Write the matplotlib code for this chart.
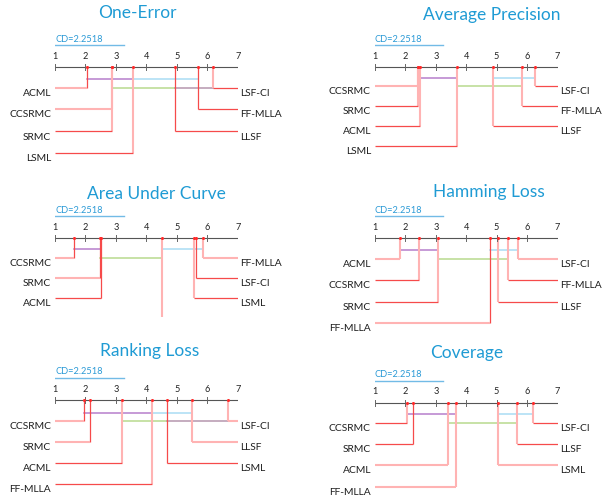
import matplotlib.pyplot as plt

plt.rcParams['font.family'] = ['Lato', 'DejaVu Sans']

W, H = 603, 500
CD = 2.2518

# average ranks, sorted from best to worst
oe_names = ['ACML', 'CCSRMC', 'SRMC', 'LSML', 'LLSF', 'FF-MLLA', 'LSF-CI']
oe_ranks = [2.04, 2.86, 2.88, 3.55, 4.94, 5.69, 6.18]
oe_cliques = [(0, 3), (1, 4), (3, 5), (4, 6)]

ap_names = ['CCSRMC', 'SRMC', 'ACML', 'LSML', 'LLSF', 'FF-MLLA', 'LSF-CI']
ap_ranks = [2.42, 2.43, 2.49, 3.69, 4.89, 5.83, 6.27]
ap_cliques = [(0, 3), (3, 5), (4, 6)]

# LLSF has no label on this one
auc_names = ['CCSRMC', 'SRMC', 'ACML', '', 'LSML', 'LSF-CI', 'FF-MLLA']
auc_ranks = [1.62, 2.49, 2.51, 4.53, 5.57, 5.62, 5.86]
auc_cliques = [(0, 2), (1, 3), (3, 6)]

hl_names = ['ACML', 'CCSRMC', 'SRMC', 'FF-MLLA', 'LLSF', 'FF-MLLA', 'LSF-CI']
hl_ranks = [1.82, 2.46, 3.08, 4.78, 5.03, 5.36, 5.69]
hl_cliques = [(0, 2), (2, 5), (3, 6)]

rl_names = ['CCSRMC', 'SRMC', 'ACML', 'FF-MLLA', 'LSML', 'LLSF', 'LSF-CI']
rl_ranks = [1.96, 2.15, 3.19, 4.17, 4.69, 5.49, 6.69]
rl_cliques = [(0, 3), (2, 4), (3, 5), (4, 6)]

cov_names = ['CCSRMC', 'SRMC', 'ACML', 'FF-MLLA', 'LSML', 'LLSF', 'LSF-CI']
cov_ranks = [2.04, 2.24, 3.39, 3.65, 5.03, 5.67, 6.18]
cov_cliques = [(0, 3), (2, 5), (4, 6)]

# line shades per method: vertical / horizontal ('r' strong, 'p' pale)
oe_shade = ['rp', 'pp', 'pr', 'pr', 'rr', 'rr', 'pr']
ap_shade = ['pp', 'pr', 'pr', 'pr', 'pr', 'pr', 'pr']
auc_shade = ['rp', 'rp', 'rr', 'pp', 'pr', 'rr', 'pp']
hl_shade = ['pp', 'pr', 'pr', 'rp', 'pr', 'pr', 'pp']
rl_shade = ['rp', 'rp', 'pr', 'pr', 'rr', 'pp', 'pp']
cov_shade = ['pr', 'rr', 'pp', 'pp', 'pp', 'pr', 'pr']

TITLE_C = '#1f9bd4'
CLIQUE_C = ['#b77fcc', '#b8da8e', '#a9dcf4', '#b596ae']
LINE = {'r': ('#f64a4a', 0.9), 'p': ('#ffb3b3', 1.5)}

fig = plt.figure(figsize=(W / 100, H / 100), dpi=100)


def cd_panel(title, names, ranks, cliques, shades, x0, x1, y_axis,
             crow, lrow, tpos):
    ax = fig.add_axes([x0 / W, 1 - (y_axis + 100) / H, (x1 - x0) / W, 165 / H])
    ax.set_xlim(1, 7)
    ax.set_ylim(100, -65)
    ax.axis('off')
    px = 6 / (x1 - x0)  # ranks per pixel

    # scale line with ticks
    ax.plot([1, 7], [0, 0], color='#555555', lw=0.8, zorder=3)
    for k in range(1, 8):
        ax.plot([k, k], [-3, 3], color='#666666', lw=0.7, zorder=3)
        ax.text(k, -8.5, str(k), ha='center', va='baseline', fontsize=6.6,
                color='#222222')

    # critical difference bar
    ax.plot([1, 1 + CD], [-22, -22], color='#72bbe6', lw=1.0)
    ax.text(1, -25.5, 'CD=%.4f' % CD, ha='left', va='baseline', fontsize=6.7,
            color='#2b9ad6')

    n = len(ranks)
    n_left = (n + 1) // 2
    for i, (r, name, sh) in enumerate(zip(ranks, names, shades)):
        if i < n_left:
            y = lrow[i]
            xs = [1, r]
            tx, ha = 1 - 4 * px, 'right'
        else:
            y = lrow[n - 1 - i]
            xs = [r, 7]
            tx, ha = 7 + 2.5 * px, 'left'
        c, w = LINE[sh[0]]
        ax.plot([r, r], [0, y], color=c, lw=w, solid_capstyle='butt', zorder=2)
        if name:
            c, w = LINE[sh[1]]
            ax.plot(xs, [y, y], color=c, lw=w, solid_capstyle='butt', zorder=2)
            ax.text(tx, y + 8, name, ha=ha, va='baseline', fontsize=7.4,
                    color='#1e1e1e')

    for k, (a, b) in enumerate(cliques):
        ax.plot([ranks[a], ranks[b]], [crow[k % 2]] * 2,
                color=CLIQUE_C[k % 4], lw=1.1, zorder=1)

    ax.plot(ranks, [0] * n, 'o', ms=2.2, color='#ff2a2a', mec='none', zorder=4)

    fig.text(tpos[0] / W, 1 - tpos[1] / H, title, ha='center', va='baseline',
             fontsize=12.5, color=TITLE_C)


cd_panel('One-Error', oe_names, oe_ranks, oe_cliques, oe_shade,
         55, 237.7, 67.5, (11.5, 20.8), (20.8, 42, 64, 85.5), (137.7, 18.3))
cd_panel('Average Precision', ap_names, ap_ranks, ap_cliques, ap_shade,
         375, 557.5, 67.3, (11, 18.7), (18.7, 38.7, 58.5, 78.5), (492, 20))
cd_panel('Area Under Curve', auc_names, auc_ranks, auc_cliques, auc_shade,
         55, 237.7, 238.3, (11, 20), (20, 40, 60, 78.4), (156.7, 199.3))
cd_panel('Hamming Loss', hl_names, hl_ranks, hl_cliques, hl_shade,
         375, 557.5, 238.3, (11.7, 20.7), (20.7, 41.7, 63.4, 84.4), (488.7, 197.3))
cd_panel('Ranking Loss', rl_names, rl_ranks, rl_cliques, rl_shade,
         55, 237.7, 400, (12.7, 21), (21, 42.3, 62.7, 84), (150, 356))
cd_panel('Coverage', cov_names, cov_ranks, cov_cliques, cov_shade,
         375, 557.5, 402.7, (11.6, 20.6), (20.6, 41.3, 62.3, 84), (466.3, 357.7))

fig.savefig('out.png', dpi=100, facecolor='white')
